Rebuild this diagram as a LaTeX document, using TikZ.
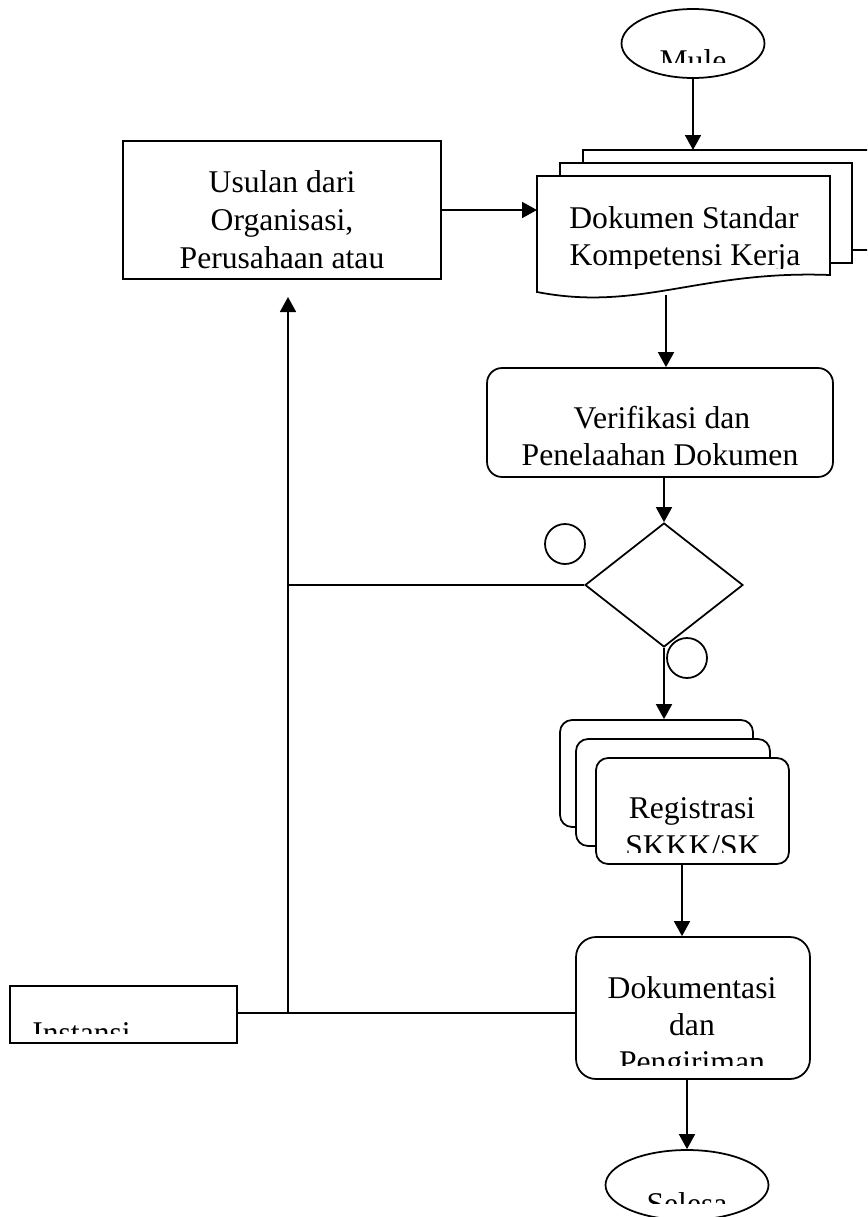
\documentclass[tikz,border=0pt]{standalone}
\usepackage{fontspec}
\setmainfont{Liberation Serif}
\usetikzlibrary{arrows.meta,shapes.geometric}
\tikzset{
  flowline/.style={line width=1pt},
  flowarrow/.style={line width=1pt,-{Triangle[length=0.3cm,width=0.32cm]}},
  boxshape/.style={draw,line width=1pt,fill=white,inner sep=0pt},
  roundbox/.style={boxshape,rounded corners=#1},
  txt/.style={font=\fontsize{18}{21}\selectfont,inner sep=0pt,anchor=base}
}
% text line, cut off below a given y (like a too small text box)
\newcommand{\cliptext}[5]{\begin{scope}\clip (0,0) rectangle (867,#4);\node[txt] (#1) at (#2,#3) {#5};\end{scope}}
\newcommand{\linetext}[4]{\node[txt] (#1) at (#2,#3) {#4};}

\begin{document}
\begin{tikzpicture}[x=0.02cm,y=-0.02cm]
\clip (0,0) rectangle (867,1217);
% start
\node[boxshape,ellipse,minimum width=2.86cm,minimum height=1.38cm] (mule) at (693,43.5) {};
\cliptext{muletxt}{693}{71}{62}{Mule}
% proposal
\node[boxshape,minimum width=6.36cm,minimum height=2.76cm] (usulan) at (282,210) {};
\linetext{usulan1}{282}{192}{Usulan dari}
\linetext{usulan2}{282}{230}{Organisasi,}
\cliptext{usulan3}{282}{268}{270}{Perusahaan atau}
% document stack
\draw[flowline,fill=white] (583,163) -- (583,150) -- (880,150) -- (880,250) -- (852,250);
\draw[flowline,fill=white] (560,176) -- (560,163) -- (852,163) -- (852,263) -- (830,263);
\draw[flowline,fill=white] (537,292) -- (537,176) -- (830,176) -- (830,275) .. controls (700,270) and (640,312) .. (537,292) -- cycle;
\coordinate (dokTop) at (693,150);
\coordinate (dokW) at (537,210);
\coordinate (dokS) at (666,295);
\linetext{dok1}{684}{228}{Dokumen Standar}
\cliptext{dok2}{685}{265}{268}{Kompetensi Kerja}
% verification
\node[roundbox=0.3cm,minimum width=6.92cm,minimum height=2.18cm] (verif) at (660,422.5) {};
\linetext{verif1}{662}{428}{Verifikasi dan}
\cliptext{verif2}{660}{465}{466}{Penelaahan Dokumen}
% decision
\node[boxshape,diamond,minimum width=3.16cm,minimum height=2.48cm] (dia) at (664,585) {};
\node[draw,flowline,circle,minimum size=0.8cm,inner sep=0pt] (yes) at (565,544) {};
\node[draw,flowline,circle,minimum size=0.8cm,inner sep=0pt] (no) at (687,658) {};
% registration stack
\node[roundbox=0.24cm,minimum width=3.86cm,minimum height=2.14cm] (regback) at (656.5,773.5) {};
\node[roundbox=0.24cm,minimum width=3.88cm,minimum height=2.14cm] (regmid) at (673,792.5) {};
\node[roundbox=0.24cm,minimum width=3.86cm,minimum height=2.12cm] (regfront) at (692.5,811) {};
\linetext{reg1}{692}{818}{Registrasi}
\cliptext{reg2}{693}{856}{852}{SKKK/SK}
% documentation
\node[roundbox=0.4cm,minimum width=4.68cm,minimum height=2.84cm] (dokum) at (693,1008) {};
\linetext{dokum1}{692}{998}{Dokumentasi}
\linetext{dokum2}{692}{1035}{dan}
\cliptext{dokum3}{692}{1072}{1065}{Pengiriman}
% agency
\node[boxshape,minimum width=4.54cm,minimum height=1.14cm] (instansi) at (123.5,1014.5) {};
\begin{scope}\clip (0,0) rectangle (867,1033);\node[txt,anchor=base west] (instansitxt) at (32,1043) {Instansi};\end{scope}
% end
\node[boxshape,ellipse,minimum width=3.26cm,minimum height=1.4cm] (selesa) at (687,1185) {};
\cliptext{selesatxt}{687}{1214}{1203}{Selesa}
% connectors
\coordinate (usulanTip) at (288,297);
\draw[flowarrow] (mule.south) -- (dokTop);
\draw[flowarrow] (usulan.east) -- (dokW);
\draw[flowarrow] (dokS) -- (dokS |- verif.north);
\draw[flowarrow] (verif.south -| dia.north) -- (dia.north);
\draw[flowarrow] (dia.south) -- (dia.south |- regback.north);
\draw[flowarrow] ([xshift=-0.21cm]regfront.south) -- ([xshift=-0.21cm]regfront.south |- dokum.north);
\draw[flowarrow] (selesa.north |- dokum.south) -- (selesa.north);
\draw[flowline] (dia.west) -- (dia.west -| usulanTip);
\draw[flowline] (instansi.east |- 0,1013) -- (dokum.west |- 0,1013);
\draw[flowarrow] (usulanTip |- 0,1013) -- (usulanTip);
\end{tikzpicture}
\end{document}
